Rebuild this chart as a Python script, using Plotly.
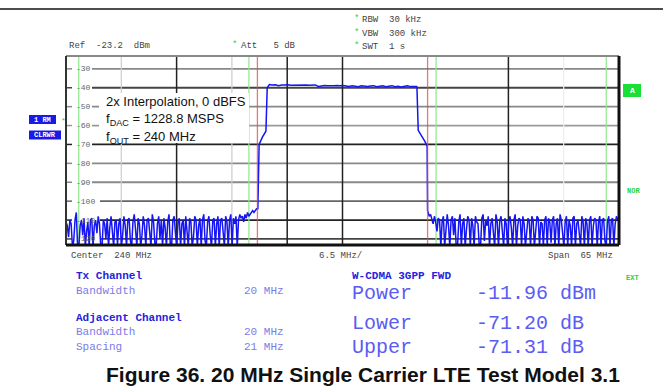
import numpy as np
import plotly.graph_objects as go

# ---- canvas / plot area in pixels ----
W, H = 663, 391
PL, PR, PT, PB = 66, 619, 56, 245

# ---- analyzer settings ----
ref_level = -23.2
db_per_div = 10
center_mhz = 240.0
span_mhz = 65.0
f_start = center_mhz - span_mhz / 2
f_stop = center_mhz + span_mhz / 2
y_bottom = ref_level - 10 * db_per_div

# ---- measured trace (dBm) ----
lower_noise_db = [
    -111, -113, -119, -110, -112, -124, -121, -110, -106, -124,
    -124, -113, -110, -118, -109, -124, -116, -111, -124, -110,
    -109, -124, -113, -110, -117, -108, -112, -124, -124, -110,
    -112, -120, -109, -124, -114, -108, -116, -124, -111, -110,
    -123, -112, -109, -124, -118, -108, -113, -124, -110, -109,
    -121, -124, -111, -107, -115, -124, -109, -112, -124, -118,
    -108, -113, -124, -110, -109, -117, -124, -107, -111, -122,
    -124, -112, -108, -120, -110, -124, -109, -114, -124, -111,
    -107, -123, -124, -110, -108, -117, -124, -111, -109, -124,
    -112, -110, -124, -108, -115, -124, -109, -111, -124, -119,
    -108, -110, -124, -113, -109, -124, -110, -107, -121, -124,
    -111, -108, -118, -124, -110, -109, -124, -112, -108, -124,
    -110, -109, -116, -124, -108, -111, -124, -110, -107, -124,
    -109, -112, -108, -124, -110, -107, -109, -108, -111, -107,
    -109, -106, -108, -107, -106, -105, -106, -105, -104, -104,
]
lower_edge_mhz = [230.2, 230.6, 231.0, 231.15, 231.3]
lower_edge_db = [-70, -66, -63, -40, -38.4]
passband_db = [-38.3, -38.6, -38.4, -38.9, -38.5, -38.6, -38.4, -38.7, -38.6, -38.5, -38.8, -38.6,
               -38.5, -38.7, -38.6, -38.5, -39.3, -38.9, -38.8, -38.9, -38.7, -38.9, -38.8, -39.0,
               -38.8, -39.1, -39.3, -38.9, -39.0, -39.4, -38.9, -39.2, -39.3, -39.1, -38.9, -39.5,
               -39.2, -39.0, -39.4, -39.1, -38.9, -39.5, -39.2, -39.6, -39.3, -39.0, -39.4, -39.2,
               -39.3]
upper_edge_mhz = [248.75, 248.9, 249.7, 249.95, 250.0]
upper_edge_db = [-39.6, -62.5, -68.5, -71, -105]
upper_noise_db = [
    -106, -108, -107, -110, -112, -108, -111, -116, -109, -110,
    -124, -111, -108, -124, -112, -107, -113, -124, -110, -108,
    -118, -109, -124, -124, -111, -107, -124, -112, -109, -124,
    -115, -108, -110, -124, -109, -113, -124, -108, -111, -112,
    -124, -124, -109, -107, -121, -110, -113, -108, -124, -112,
    -109, -117, -124, -107, -111, -124, -110, -108, -119, -124,
    -109, -112, -124, -111, -108, -114, -124, -110, -107, -124,
    -113, -109, -110, -124, -108, -112, -124, -118, -109, -111,
    -124, -108, -110, -124, -113, -108, -109, -124, -111, -112,
    -124, -110, -108, -124, -109, -111, -122, -110, -108, -124,
    -112, -109, -124, -107, -110, -120, -124, -111, -108, -124,
    -110, -113, -124, -109, -108, -124, -112, -110, -117, -124,
    -108, -111, -124, -109, -112, -124, -110, -108, -124, -113,
    -109, -110, -124, -111, -108, -124, -110, -109, -121, -124,
    -111, -108, -124, -110, -109, -124, -112, -108, -110, -109,
]

# ---- channel limit markers (MHz) ----
tx_channel_mhz = [230.0, 250.0]
adj_channel_mhz = [209.0, 229.0, 251.0, 271.0]

# ---- graticule ----
grid_db = [-30, -40, -50, -60, -70, -80, -90, -100, -110, -120]
grid_labels = ["-30", "-40", "-50", "-60", "-70", "-80", "-90", "-100", "-110", "-120"]
grid_db_colors = ["#888", "#444", "#888", "#999", "#222", "#888", "#888", "#666", "#222", "#444"]
vgrid_div = [1, 2, 3, 4, 5, 8, 9]
vgrid_colors = ["#ccc", "#222", "#ccc", "#222", "#222", "#222", "#eee"]

# sweep points of each segment
lower_noise_mhz = np.linspace(f_start, 230.05, len(lower_noise_db))
passband_mhz = np.linspace(231.4, 248.7, len(passband_db))
upper_noise_mhz = np.linspace(250.05, f_stop, len(upper_noise_db))

freq = np.concatenate([lower_noise_mhz, lower_edge_mhz, passband_mhz, upper_edge_mhz, upper_noise_mhz])
level = np.concatenate([lower_noise_db, lower_edge_db, passband_db, upper_edge_db, upper_noise_db])


def px_x(px):
    return (px - PL) / (PR - PL)


def px_y(py):
    return (PB - py) / (PB - PT)


def db_to_py(db):
    return PB - (db - y_bottom) / (ref_level - y_bottom) * (PB - PT)


fig = go.Figure()
fig.add_trace(go.Scatter(x=freq, y=level, mode="lines",
                         line=dict(color="#1414f5", width=1.5), hoverinfo="skip"))

shapes = []
# horizontal graticule with short tick at the left edge
for db, col in zip(grid_db, grid_db_colors):
    start = px_x(100) if db <= -100 else px_x(92)
    shapes.append(dict(type="line", xref="paper", yref="y", x0=start, x1=1, y0=db, y1=db,
                       line=dict(color=col, width=1.8), layer="below"))
    shapes.append(dict(type="line", xref="paper", yref="y", x0=0, x1=px_x(72), y0=db, y1=db,
                       line=dict(color=col, width=1.5), layer="below"))
# vertical graticule
step = span_mhz / 10
for k, col in zip(vgrid_div, vgrid_colors):
    f = f_start + k * step
    shapes.append(dict(type="line", xref="x", yref="paper", x0=f, x1=f, y0=0, y1=1,
                       line=dict(color=col, width=1.5 if col == "#222" else 1.2), layer="below"))
# adjacent channel limits
for f in adj_channel_mhz:
    shapes.append(dict(type="line", xref="x", yref="paper", x0=f, x1=f, y0=0, y1=1,
                       line=dict(color="#8de88d", width=1.2), layer="below"))
# text box over the graticule
shapes.append(dict(type="rect", xref="paper", yref="paper", x0=px_x(99), x1=px_x(249),
                   y0=px_y(143), y1=px_y(93), fillcolor="white", line=dict(width=0), layer="below"))
# Tx channel limits
for f in tx_channel_mhz:
    shapes.append(dict(type="line", xref="x", yref="paper", x0=f, x1=f, y0=0, y1=1,
                       line=dict(color="rgba(235,70,70,0.75)", width=1.3), layer="above"))
# frame
shapes += [
    dict(type="line", xref="paper", yref="paper", x0=0, x1=1, y0=1, y1=1, line=dict(color="#888", width=2)),
    dict(type="line", xref="paper", yref="paper", x0=0, x1=0, y0=0, y1=1, line=dict(color="#333", width=2)),
    dict(type="line", xref="paper", yref="paper", x0=1, x1=1, y0=0, y1=1, line=dict(color="#111", width=3)),
    dict(type="line", xref="paper", yref="paper", x0=0, x1=1, y0=0, y1=0, line=dict(color="#111", width=3)),
]
# rule across the top of the page
shapes.append(dict(type="line", xref="paper", yref="paper", x0=px_x(0), x1=px_x(W), y0=px_y(9), y1=px_y(9),
                   line=dict(color="#111", width=1.5)))
# trace label boxes
shapes.append(dict(type="rect", xref="paper", yref="paper", x0=px_x(29), x1=px_x(56), y0=px_y(124),
                   y1=px_y(115), fillcolor="#1a1ae6", line=dict(width=0)))
shapes.append(dict(type="rect", xref="paper", yref="paper", x0=px_x(29), x1=px_x(61), y0=px_y(139.5),
                   y1=px_y(130.5), fillcolor="#1a1ae6", line=dict(width=0)))
shapes.append(dict(type="rect", xref="paper", yref="paper", x0=px_x(623), x1=px_x(641), y0=px_y(97),
                   y1=px_y(84), fillcolor="#19e036", line=dict(width=0)))

MONO = "Liberation Mono, DejaVu Sans Mono, monospace"
SANS = "Liberation Sans, Arial, sans-serif"
ann = []


def text(x, y, s, size=9, color="#444", family=MONO, anchor="left"):
    ann.append(dict(xref="paper", yref="paper", x=px_x(x), y=px_y(y), text=s, showarrow=False,
                    xanchor=anchor, yanchor="middle", font=dict(family=family, size=size, color=color)))


GREEN = "#22d23a"
# header
text(67, 46, "Ref  -23.2  dBm", 9, "#444")
text(230, 45, "*", 9, GREEN)
text(239, 46, "Att   5 dB", 9, "#444")
text(352, 19, "*", 9, GREEN)
text(360, 20, "RBW  30 kHz", 9, "#444")
text(352, 33, "*", 9, GREEN)
text(360, 34, "VBW  300 kHz", 9, "#444")
text(352, 46, "*", 9, GREEN)
text(360, 47, "SWT  1 s", 9, "#444")
# level labels
for db, lab in zip(grid_db, grid_labels):
    text(74, db_to_py(db), lab, 8, "#666")
# side labels
text(42.5, 119.5, "<b>1 RM</b>", 7, "white", anchor="center")
text(45, 135, "<b>CLRWR</b>", 7, "white", anchor="center")
text(59, 120, "*", 8, GREEN)
text(632, 90.5, "<b>A</b>", 8, "white", anchor="center")
text(633, 191, "<b>NOR</b>", 7, GREEN, anchor="center")
text(632, 278, "<b>EXT</b>", 7, GREEN, anchor="center")
# x-axis description
text(69, 256, "Center  240 MHz", 9, "#444")
text(317, 256, "6.5 MHz/", 9, "#444")
text(546, 256, "Span  65 MHz", 9, "#444")
# settings box text
text(104, 101, "2x Interpolation, 0 dBFS", 13, "#111", SANS)
text(104, 119, "f<sub>DAC</sub> = 1228.8 MSPS", 13, "#111", SANS)
text(104, 137, "f<sub>OUT</sub> = 240 MHz", 13, "#111", SANS)
# channel power table
DARKB = "#2424dc"
LIGHTB = "#7c7ce6"
text(74, 275.5, "<b>Tx Channel</b>", 11, DARKB)
text(74, 290.5, "Bandwidth", 11, LIGHTB)
text(242, 290.5, "20 MHz", 11, LIGHTB)
text(74, 318, "<b>Adjacent Channel</b>", 11, DARKB)
text(74, 332, "Bandwidth", 11, LIGHTB)
text(242, 332, "20 MHz", 11, LIGHTB)
text(74, 346.5, "Spacing", 11, LIGHTB)
text(242, 346.5, "21 MHz", 11, LIGHTB)
text(350, 275.5, "<b>W-CDMA 3GPP FWD</b>", 11, DARKB)
BIG = "#5c5cf2"
text(350, 293.5, "Power", 20, BIG)
text(474, 293.5, "-11.96 dBm", 20, BIG)
text(350, 323, "Lower", 20, BIG)
text(474, 323, "-71.20 dB", 20, BIG)
text(350, 347, "Upper", 20, BIG)
text(474, 347, "-71.31 dB", 20, BIG)
# caption
text(362.5, 374, "<b>Figure 36. 20 MHz Single Carrier LTE Test Model 3.1</b>", 21, "#111", SANS, "center")

fig.update_layout(
    width=W, height=H,
    margin=dict(l=PL, r=W - PR, t=PT, b=H - PB, pad=0),
    paper_bgcolor="white", plot_bgcolor="white",
    showlegend=False,
    xaxis=dict(range=[f_start, f_stop], showgrid=False, zeroline=False, showticklabels=False,
               ticks="", showline=False, fixedrange=True),
    yaxis=dict(range=[y_bottom, ref_level], showgrid=False, zeroline=False, showticklabels=False,
               ticks="", showline=False, fixedrange=True),
    shapes=shapes,
    annotations=ann,
)

fig.write_html("out.html")
